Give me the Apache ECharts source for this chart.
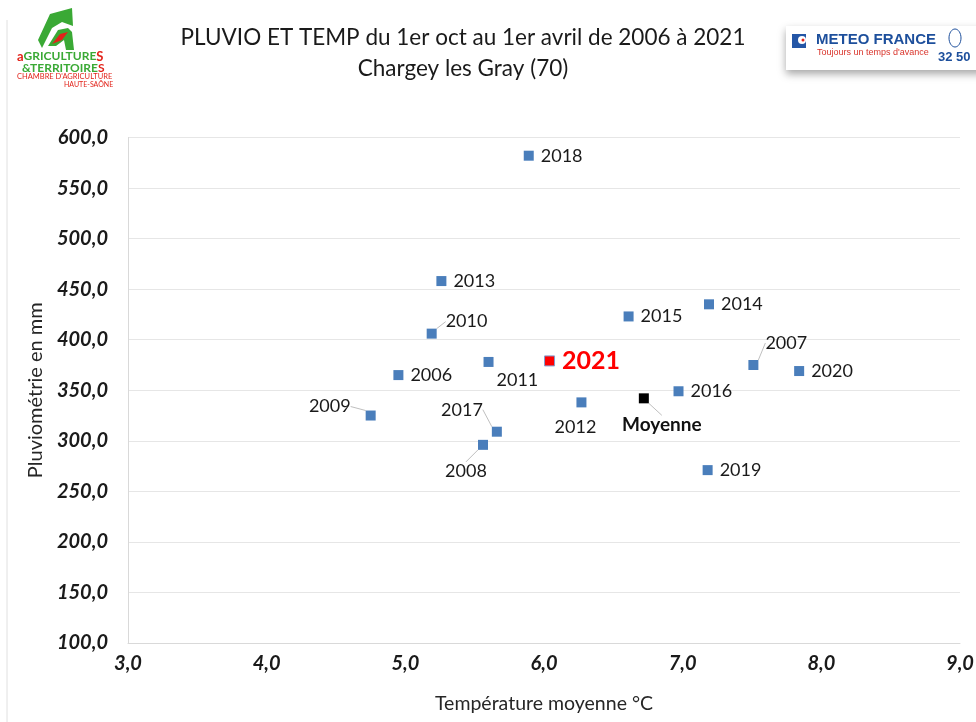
<!DOCTYPE html>
<html><head><meta charset="utf-8">
<script src="https://cdn.jsdelivr.net/npm/echarts@6/dist/echarts.min.js"></script>
<style>html,body{margin:0;padding:0;background:#fff}#c{width:976px;height:722px}</style>
</head><body><div id="c"></div>
<script>
// ---- data ----
const years = ['2006','2007','2008','2009','2010','2011','2012','2013','2014','2015','2016','2017','2018','2019','2020','2021','Moyenne'];
const temperatures = [4.95, 7.51, 5.56, 4.75, 5.19, 5.60, 6.27, 5.26, 7.19, 6.61, 6.97, 5.66, 5.89, 7.18, 7.84, 6.04, 6.72];
const rainfall = [365, 375, 296, 325, 406, 378, 338, 458, 435, 423, 349, 309, 582, 271, 369, 379, 342];
const xTicks = {min: 3, max: 9, step: 1};
const yTicks = {min: 100, max: 600, step: 50};

// ---- label placement (style, not data) ----
const placement = {
  '2009': {pos: 'left', dx: -8, dy: -9, line: true},
  '2010': {pos: 'right', dx: 2, dy: -12, line: true},
  '2011': {pos: 'right', dx: -4, dy: 18, line: false},
  '2017': {pos: 'left', dx: -2, dy: -22, line: true},
  '2008': {pos: 'bottom', dx: -17, dy: 5, line: true},
  '2012': {pos: 'bottom', dx: -6, dy: 4, line: false},
  '2007': {pos: 'right', dx: 0, dy: -22, line: true},
  'Moyenne': {pos: 'bottom', dx: 18, dy: 5, line: true}
};

const FONT = 'Lato, "Open Sans", sans-serif';
const fmt = v => v.toFixed(1).replace('.', ',');

const points = years.map((y, i) => {
  const p = placement[y] || {pos: 'right', dx: 0, dy: 0, line: false};
  const item = {
    name: y,
    value: [temperatures[i], rainfall[i]],
    label: {position: p.pos},
    labelLine: {show: p.line}
  };
  if (y === '2021') {
    item.itemStyle = {color: '#ff0000', borderColor: '#7f9fd0', borderWidth: 1, opacity: 1};
    item.label = {position: 'right', color: '#ff0000', fontWeight: 'bold', fontSize: 25};
  } else if (y === 'Moyenne') {
    item.itemStyle = {color: '#000000', opacity: 1};
    item.label = {position: 'bottom', color: '#111', fontWeight: 'bold', fontSize: 19};
  }
  return item;
});

const chart = echarts.init(document.getElementById('c'), null, {renderer: 'canvas'});
chart.setOption({
  backgroundColor: '#fff',
  animation: false,
  textStyle: {fontFamily: FONT},
  title: {
    text: 'PLUVIO ET TEMP du 1er oct au 1er avril de 2006 à 2021\nChargey les Gray (70)',
    left: 458, top: 17, textAlign: 'center',
    textStyle: {fontFamily: FONT, fontSize: 22.5, fontWeight: 'normal', color: '#1a1a1a', lineHeight: 31}
  },
  grid: {left: 128, right: 16, top: 137.5, bottom: 79, outerBoundsMode: 'none', containLabel: false},
  xAxis: {
    type: 'value', min: xTicks.min, max: xTicks.max, interval: xTicks.step,
    name: 'Température moyenne °C', nameLocation: 'middle', nameGap: 51,
    nameTextStyle: {fontFamily: FONT, fontSize: 19.5, color: '#262626'},
    axisLine: {show: true, lineStyle: {color: '#d9d9d9'}},
    axisTick: {show: false},
    splitLine: {show: false},
    axisLabel: {formatter: fmt, fontFamily: FONT, fontSize: 20, fontWeight: 'bold', fontStyle: 'italic', color: '#1a1a1a', margin: 11}
  },
  yAxis: {
    type: 'value', min: yTicks.min, max: yTicks.max, interval: yTicks.step,
    name: 'Pluviométrie en mm', nameLocation: 'middle', nameGap: 75, nameRotate: 90,
    nameTextStyle: {fontFamily: FONT, fontSize: 20, color: '#262626'},
    axisLine: {show: true, lineStyle: {color: '#d9d9d9'}},
    axisTick: {show: false},
    splitLine: {show: true, lineStyle: {color: '#e6e6e6'}},
    axisLabel: {formatter: fmt, fontFamily: FONT, fontSize: 20, fontWeight: 'bold', fontStyle: 'italic', color: '#1a1a1a', margin: 20}
  },
  series: [{
    type: 'scatter',
    symbol: 'rect',
    symbolSize: 10,
    itemStyle: {color: '#4a7ebb', opacity: 1},
    label: {show: true, formatter: '{b}', distance: 7, fontFamily: FONT, fontSize: 18, color: '#1a1a1a'},
    labelLine: {show: false, lineStyle: {color: '#bfbfbf', width: 1}},
    labelLayout: function (params) {
      const p = placement[years[params.dataIndex]];
      return p ? {dx: p.dx, dy: p.dy} : {};
    },
    data: points
  }],
  graphic: [
    {type: 'line', shape: {x1: 7, y1: 20, x2: 7, y2: 722}, style: {stroke: '#e0e0e0', lineWidth: 1}},
    // left logo
    {type: 'polygon', shape: {points: [[50, 14], [72, 8], [73, 26], [62, 22], [52, 28], [42, 48], [38, 40]]}, style: {fill: '#3aa935'}},
    {type: 'polygon', shape: {points: [[48, 46], [58, 30], [68, 28], [72, 32], [74, 50], [66, 50], [64, 40], [56, 46]]}, style: {fill: '#3aa935'}},
    {type: 'polygon', shape: {points: [[52, 44], [60, 34], [68, 32], [62, 40]]}, style: {fill: '#e2231a'}},
    {type: 'text', left: 17, top: 50, style: {text: '{r|a}{g|GRICULTURE}{r|S}', rich: {r: {fill: '#e2231a', fontSize: 13, fontWeight: 'bold', fontFamily: FONT}, g: {fill: '#3aa935', fontSize: 12, fontWeight: 'bold', fontFamily: FONT}}}},
    {type: 'text', left: 22, top: 62, style: {text: '{g|&TERRITOIRE}{r|S}', rich: {r: {fill: '#e2231a', fontSize: 12, fontWeight: 'bold', fontFamily: FONT}, g: {fill: '#3aa935', fontSize: 12, fontWeight: 'bold', fontFamily: FONT}}}},
    {type: 'text', left: 17, top: 73, style: {text: 'CHAMBRE D\'AGRICULTURE', fill: '#e2231a', fontSize: 7.5, fontFamily: FONT}},
    {type: 'text', left: 64, top: 81, style: {text: 'HAUTE-SAÔNE', fill: '#e2231a', fontSize: 7, fontFamily: FONT}},
    // right logo
    {type: 'rect', shape: {x: 786, y: 26, width: 200, height: 44}, style: {fill: '#fff', shadowColor: 'rgba(0,0,0,0.35)', shadowBlur: 8, shadowOffsetY: 4}},
    {type: 'rect', shape: {x: 792, y: 34, width: 14, height: 14}, style: {fill: '#2456a6'}},
    {type: 'circle', shape: {cx: 802, cy: 40, r: 4}, style: {fill: '#fff'}},
    {type: 'circle', shape: {cx: 803, cy: 40, r: 1.5}, style: {fill: '#e2231a'}},
    {type: 'text', left: 816, top: 32, style: {text: 'METEO FRANCE', fill: '#1d4f9c', fontSize: 15, fontWeight: 'bold', fontFamily: '"Liberation Sans", Arial, sans-serif'}},
    {type: 'text', left: 817, top: 48, style: {text: 'Toujours un temps d\'avance', fill: '#d9342b', fontSize: 9, fontFamily: '"Liberation Sans", Arial, sans-serif'}},
    {type: 'ellipse', shape: {cx: 955, cy: 38, rx: 6, ry: 9}, style: {fill: 'none', stroke: '#1d4f9c', lineWidth: 1}},
    {type: 'text', left: 938, top: 51, style: {text: '32 50', fill: '#1d4f9c', fontSize: 13, fontWeight: 'bold', fontFamily: '"Liberation Sans", Arial, sans-serif'}}
  ]
});
</script></body></html>
